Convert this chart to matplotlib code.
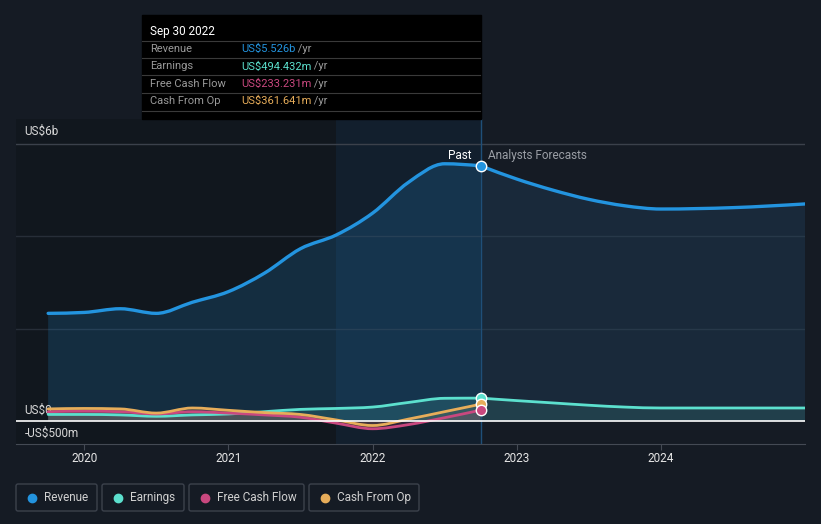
import numpy as np
import matplotlib.pyplot as plt
from matplotlib.patches import FancyBboxPatch, Rectangle, PathPatch
from matplotlib.path import Path

plt.rcParams['font.family'] = ['Roboto', 'DejaVu Sans']

# past values (US$ b), quarterly
past_t = [2019.75, 2020.0, 2020.25, 2020.5, 2020.75, 2021.0, 2021.25,
          2021.5, 2021.75, 2022.0, 2022.25, 2022.5, 2022.75]
revenue = [2.33, 2.35, 2.43, 2.33, 2.57, 2.80, 3.20, 3.73, 4.03, 4.50, 5.17, 5.57, 5.526]
earnings = [0.14, 0.14, 0.13, 0.10, 0.13, 0.15, 0.20, 0.25, 0.27, 0.30, 0.40, 0.49, 0.494]
fcf = [0.20, 0.21, 0.20, 0.15, 0.20, 0.17, 0.13, 0.08, -0.05, -0.17, -0.08, 0.07, 0.233]
cfo = [0.26, 0.27, 0.26, 0.17, 0.28, 0.23, 0.18, 0.14, 0.02, -0.10, 0.04, 0.20, 0.362]

# analyst forecasts
fc_t = [2022.75, 2023.0, 2023.25, 2023.5, 2023.75, 2024.0, 2024.5, 2025.0]
revenue_fc = [5.526, 5.24, 5.00, 4.80, 4.66, 4.59, 4.62, 4.70]
earnings_fc = [0.494, 0.44, 0.39, 0.34, 0.30, 0.28, 0.28, 0.28]

year_ticks = [2020, 2021, 2022, 2023, 2024]
now = 2022.75

BG = '#151b24'
C_REV = '#2394df'
C_EARN = '#5ce0ce'
C_FCF = '#c9487f'
C_CFO = '#e7ad5a'


# monotone cubic curve (like d3 curveMonotoneX) as bezier path
def curve_verts(xs, ys):
    xs = np.asarray(xs, float)
    ys = np.asarray(ys, float)
    h = np.diff(xs)
    s = np.diff(ys) / h
    n = len(xs)
    m = np.zeros(n)
    for i in range(1, n - 1):
        p = (s[i - 1] * h[i] + s[i] * h[i - 1]) / (h[i - 1] + h[i])
        m[i] = (np.sign(s[i - 1]) + np.sign(s[i])) * min(abs(s[i - 1]), abs(s[i]), 0.5 * abs(p))
    m[0] = (3 * s[0] - m[1]) / 2
    m[-1] = (3 * s[-1] - m[-2]) / 2
    verts = [(xs[0], ys[0])]
    codes = [Path.MOVETO]
    for i in range(n - 1):
        d = h[i] / 3
        verts += [(xs[i] + d, ys[i] + m[i] * d), (xs[i + 1] - d, ys[i + 1] - m[i + 1] * d),
                  (xs[i + 1], ys[i + 1])]
        codes += [Path.CURVE4] * 3
    return verts, codes


def smooth_line(ax, xs, ys, color, lw, z):
    v, c = curve_verts(xs, ys)
    ax.add_patch(PathPatch(Path(v, c), fc='none', ec=color, lw=lw, zorder=z, capstyle='round'))


def smooth_fill(ax, xs, ys, color, alpha, z):
    v, c = curve_verts(xs, ys)
    v = v + [(xs[-1], 0), (xs[0], 0), (xs[0], ys[0])]
    c = c + [Path.LINETO, Path.LINETO, Path.CLOSEPOLY]
    ax.add_patch(PathPatch(Path(v, c), fc=color, ec='none', alpha=alpha, zorder=z))


fig = plt.figure(figsize=(8.21, 5.24), dpi=100, facecolor=BG)
ax = fig.add_axes([16 / 821, 80 / 524, 789 / 821, 325 / 524])
ax.set_facecolor(BG)
ax.set_xlim(2019.527, 2025.0)
ax.set_ylim(-0.5, 6.54)

# past background and last-year highlight
ax.axvspan(2019.527, now, color='#0b0e13', alpha=0.3, lw=0, zorder=0)
ax.axvspan(2021.75, now, color='#1a4f80', alpha=0.16, lw=0, zorder=0)

# grid
ax.axhline(6, color='#3b414b', lw=1, zorder=1)
for g in [2, 4]:
    ax.axhline(g, color='#272e38', lw=1, zorder=1)

# revenue
smooth_fill(ax, past_t, revenue, C_REV, 0.18, 2)
smooth_fill(ax, fc_t, revenue_fc, '#2a5f8a', 0.22, 2)
smooth_line(ax, past_t, revenue, C_REV, 2.4, 5)
smooth_line(ax, fc_t, revenue_fc, C_REV, 2.4, 5)

# small series
smooth_fill(ax, past_t, earnings, C_EARN, 0.15, 3)
smooth_fill(ax, fc_t, earnings_fc, C_EARN, 0.12, 3)
smooth_line(ax, past_t, earnings, C_EARN, 2, 5)
smooth_line(ax, fc_t, earnings_fc, C_EARN, 2, 5)
smooth_fill(ax, past_t, fcf, C_FCF, 0.15, 3)
smooth_line(ax, past_t, fcf, C_FCF, 2, 6)
smooth_fill(ax, past_t, cfo, C_CFO, 0.12, 3)
smooth_line(ax, past_t, cfo, C_CFO, 2, 6)

# zero line and now line
ax.axhline(0, color='#ffffff', lw=1.2, zorder=7)
ax.axvline(now, color='#1f4f78', lw=1, zorder=4)

# markers at current point
for v, c in [(revenue[-1], C_REV), (earnings[-1], C_EARN), (cfo[-1], C_CFO), (fcf[-1], C_FCF)]:
    ax.plot([now], [v], 'o', ms=7.5, mfc=c, mec='white', mew=1, zorder=9)

ax.text(now - 0.06, 6.0 - 0.26, 'Past', color='white', fontsize=8.5, ha='right', va='center', zorder=9)
ax.text(now + 0.05, 6.0 - 0.26, 'Analysts Forecasts', color='#9a9ea5', fontsize=8.5,
        ha='left', va='center', zorder=9)

# y labels
lab = dict(color='#d8d8d8', fontsize=8.5, ha='left', va='center', transform=ax.get_yaxis_transform())
ax.text(0.011, 6.0 + 0.28, 'US$6b', **lab)
ax.text(0.011, 0.24, 'US$0', **lab)
ax.text(0.011, -0.27, '-US$500m', **lab)

# axes styling
for s in ['top', 'right', 'left']:
    ax.spines[s].set_visible(False)
ax.spines['bottom'].set_color('#444a54')
ax.set_yticks([])
ax.set_xticks(year_ticks)
ax.set_xticklabels([str(y) for y in year_ticks])
ax.tick_params(axis='x', colors='#444a54', length=4, labelcolor='#e6e6e6', labelsize=8.5, pad=2)

# overlay in pixel coordinates for tooltip and legend
ov = fig.add_axes([0, 0, 1, 1])
ov.set_xlim(0, 821)
ov.set_ylim(524, 0)
ov.axis('off')
ov.patch.set_alpha(0)

ov.add_patch(Rectangle((142, 15), 339, 104, color='#000000', zorder=1))
ov.text(150, 31, 'Sep 30 2022', color='white', fontsize=8.5, va='center')
rows = [('Revenue', 'US$5.526b', C_REV), ('Earnings', 'US$494.432m', C_EARN),
        ('Free Cash Flow', 'US$233.231m', C_FCF), ('Cash From Op', 'US$361.641m', C_CFO)]
for i, (name, val, c) in enumerate(rows):
    y = 49 + i * 17.4
    ov.plot([142, 480], [y - 8.5, y - 8.5], color='#3a3a3a', lw=0.8)
    ov.text(150, y, name, color='#9a9a9a', fontsize=8, va='center')
    t = ov.text(241, y, val, color=c, fontsize=8, va='center')
    ov.annotate(' /yr', xycoords=t, xy=(1, 0.5), va='center', color='#9a9a9a', fontsize=8)
ov.plot([142, 480], [111, 111], color='#3a3a3a', lw=0.8)

# legend boxes
legend = [('Revenue', C_REV, 16, 81), ('Earnings', C_EARN, 102, 82),
          ('Free Cash Flow', C_FCF, 189, 115), ('Cash From Op', C_CFO, 309, 110)]
for name, c, x0, w in legend:
    ov.add_patch(FancyBboxPatch((x0, 484), w, 27, boxstyle='round,pad=0,rounding_size=2',
                                fc='none', ec='#3c424c', lw=1))
    ov.plot([x0 + 16], [497.5], 'o', ms=6, color=c)
    ov.text(x0 + 28, 497.5, name, color='#d0d0d0', fontsize=8.5, va='center')

fig.savefig('out.png', dpi=100, facecolor=BG)
